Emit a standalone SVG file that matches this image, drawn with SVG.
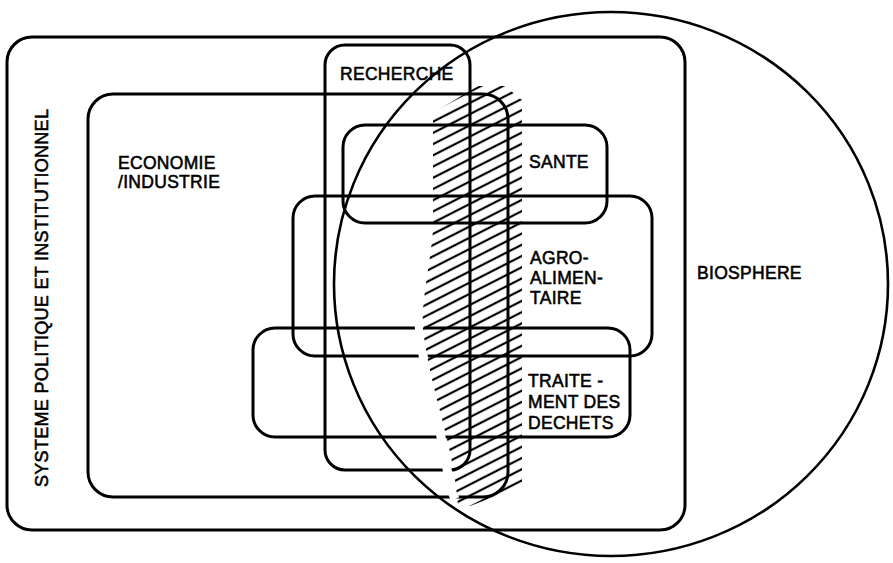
<svg xmlns="http://www.w3.org/2000/svg" width="893" height="563" viewBox="0 0 893 563">
<style>
.box{fill:none;stroke:#000;stroke-width:3}
.circ{fill:none;stroke:#000;stroke-width:2.6}
.lbl{font-family:"Liberation Sans",Arial,sans-serif;font-size:17.5px;letter-spacing:0.3px;fill:#000;stroke:#000;stroke-width:0.55}
</style>
<defs>
<pattern id="hatch" patternUnits="userSpaceOnUse" width="12" height="10" patternTransform="rotate(-27)">
<line x1="-1" y1="5" x2="13" y2="5" stroke="#000" stroke-width="2.2"/>
</pattern>
</defs>
<rect width="893" height="563" fill="#fff"/>
<g id="systeme">
<rect class="box" x="7" y="37" width="678" height="493" rx="25"/>
<text class="lbl" style="font-size:18px" transform="translate(48,487) rotate(-90)">SYSTEME POLITIQUE ET INSTITUTIONNEL</text>
</g>
<g id="economie">
<rect class="box" x="88" y="94" width="420" height="403" rx="25"/>
<text class="lbl" x="118" y="169">ECONOMIE</text>
<text class="lbl" x="118" y="188">/INDUSTRIE</text>
</g>
<g id="recherche">
<rect class="box" x="325" y="45" width="145" height="425" rx="20"/>
<text class="lbl" x="340" y="80">RECHERCHE</text>
</g>
<g id="sante">
<rect class="box" x="343" y="125" width="264" height="98" rx="22"/>
<text class="lbl" x="529" y="168">SANTE</text>
</g>
<g id="agro">
<rect class="box" x="293" y="196" width="359" height="160" rx="22"/>
<text class="lbl" x="530" y="264">AGRO-</text>
<text class="lbl" x="530" y="284">ALIMEN-</text>
<text class="lbl" x="530" y="304">TAIRE</text>
</g>
<g id="traitement">
<rect class="box" x="253" y="328" width="377" height="109" rx="22"/>
<text class="lbl" x="528" y="387">TRAITE -</text>
<text class="lbl" x="528" y="408">MENT DES</text>
<text class="lbl" x="528" y="429">DECHETS</text>
</g>
<g id="biosphere">
<ellipse class="circ" cx="611" cy="284" rx="277" ry="272"/>
<text class="lbl" x="697" y="279">BIOSPHERE</text>
</g>
<g id="zone-hachuree">
<path d="M419,312 C419,335 421,345 424,360 C430,390 437,415 441,437 C444,452 446,462 448,475 C450,485 452,492 455,499" fill="none" stroke="#fff" stroke-width="9"/>
<path d="M433,113 L478,86 L505,86 L522,100 L522,486 L470,506 L458,506 C456,480 451,455 446,435 C439,405 428,370 423,330 C421,300 431,260 433,230 Z" fill="url(#hatch)"/>
</g>
</svg>
